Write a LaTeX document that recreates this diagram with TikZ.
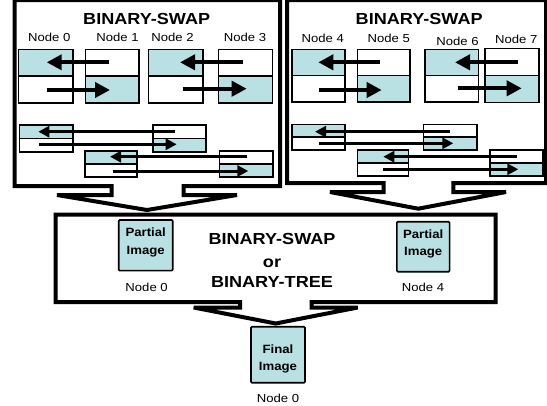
\documentclass[tikz,border=0pt]{standalone}
\usepackage{fontspec}
\setmainfont{Liberation Sans}
\usetikzlibrary{arrows.meta}
\definecolor{tealc}{RGB}{185,224,226}
\tikzset{
  frame/.style={line width=4pt, line join=miter},
  cellline/.style={line width=1.6pt},
  cell/.style={inner sep=0pt, outer sep=0pt},
  bigarr/.style={line width=4pt, -{Triangle[length=15pt,width=15pt]}},
  smallarr/.style={line width=3pt, -{Triangle[length=11pt,width=11pt]}},
  title/.style={font=\fontsize{16}{18}\selectfont\bfseries, anchor=base, inner sep=0pt, xscale=1.13},
  lab/.style={font=\fontsize{11.6}{14}\selectfont, anchor=base, inner sep=0pt, xscale=1.13},
  boxtxt/.style={font=\fontsize{12}{14}\selectfont\bfseries, anchor=base, inner sep=0pt, xscale=1.1},
  imgbox/.style={draw, line width=1.6pt, fill=tealc, inner sep=0pt, outer sep=0pt, rounded corners=1pt},
}
% #1 name, #2 x1, #3 y1, #4 x2, #5 y2, #6 t/b (teal half)
\newcommand\splitbox[6]{%
  \pgfmathsetmacro\bw{#4-#2}\pgfmathsetmacro\bh{#5-#3}%
  \node[cell, minimum width=\bw pt, minimum height=\bh pt] (#1) at ({(#2+#4)/2},{(#3+#5)/2}) {};
  \if t#6\fill[tealc] (#1.north west) rectangle (#1.east);\else\fill[tealc] (#1.west) rectangle (#1.south east);\fi
  \draw[cellline] (#1.west) -- (#1.east);
  \draw[cellline] (#1.north west) rectangle (#1.south east);
}
% #1 name, #2 style, #3 x start, #4 x end, #5 y
\newcommand\swaparrow[5]{%
  \coordinate (#1s) at (#3,#5);
  \coordinate (#1e) at (#4,#5);
  \draw[#2] (#1s) -- (#1e);
}
\begin{document}
\begin{tikzpicture}[x=1pt,y=-1pt]
\path[use as bounding box, fill=white] (0,0) rectangle (547,405);

% frames with arrow outlines
\draw[frame] (14.7,0) -- (280,0) -- (280,186) -- (183.5,186) -- (183.5,195) -- (237,195)
  -- (147,210) -- (57,195) -- (111.5,195) -- (111.5,186) -- (14.7,186) -- cycle;
\draw[frame] (287,0) -- (546,0) -- (546,183) -- (453.3,183) -- (453.3,192) -- (506,192)
  -- (418.3,208.7) -- (330,192) -- (383.5,192) -- (383.5,183) -- (287,183) -- cycle;
\draw[frame] (55.5,214.5) -- (495.5,214.5) -- (495.5,302) -- (311.5,302) -- (311.5,307.5) -- (357.7,307.5)
  -- (275.7,323.5) -- (193.7,307.5) -- (240,307.5) -- (240,302) -- (55.5,302) -- cycle;

% left group
\node[title] (t1) at (146.7,24) {BINARY-SWAP};
\node[lab] (n0) at (49.3,41.7) {Node 0};
\node[lab] (n1) at (117.5,41.7) {Node 1};
\node[lab] (n2) at (172.5,41.7) {Node 2};
\node[lab] (n3) at (245,41.7) {Node 3};
\splitbox{b0}{18.3}{49.3}{72.7}{102.7}{t}
\splitbox{b1}{85.5}{49.3}{139}{102.7}{b}
\splitbox{b2}{148.3}{49.3}{202.7}{102.7}{t}
\splitbox{b3}{218.5}{49.3}{272.5}{102.7}{b}
\splitbox{c0}{19.3}{125}{72.7}{151.7}{t}
\splitbox{c2}{152.7}{125}{206}{151.7}{b}
\splitbox{c1}{85}{150.7}{136.7}{176.7}{t}
\splitbox{c3}{219.3}{150.7}{272.7}{176.7}{b}
\swaparrow{a1}{bigarr}{109.3}{46.7}{62.3}
\swaparrow{a2}{bigarr}{46.7}{110}{90}
\swaparrow{a3}{bigarr}{243.3}{180}{62.3}
\swaparrow{a4}{bigarr}{182.7}{246.7}{88.7}
\swaparrow{a5}{smallarr}{175}{38.3}{131.7}
\swaparrow{a6}{smallarr}{39.3}{176.7}{144.3}
\swaparrow{a7}{smallarr}{246.7}{110}{156.7}
\swaparrow{a8}{smallarr}{112.7}{248.3}{171}

% right group
\node[title] (t2) at (419.2,24) {BINARY-SWAP};
\node[lab] (n4) at (322.8,42.7) {Node 4};
\node[lab] (n5) at (388.7,42.3) {Node 5};
\node[lab] (n6) at (457.5,45) {Node 6};
\node[lab] (n7) at (516.3,43.3) {Node 7};
\splitbox{b4}{291.7}{49.3}{345}{101.7}{t}
\splitbox{b5}{357.3}{49.3}{410}{101.7}{b}
\splitbox{b6}{425}{49.3}{478.3}{101.7}{t}
\splitbox{b7}{485}{48.3}{538.7}{102.3}{b}
\splitbox{c4}{291.7}{124.3}{345}{150}{t}
\splitbox{c6}{423.3}{124.3}{476.7}{150}{b}
\splitbox{c5}{357.3}{150}{408.3}{176}{t}
\splitbox{c7}{490}{150}{542.7}{176}{b}
\swaparrow{r1}{bigarr}{380}{318.3}{62.3}
\swaparrow{r2}{bigarr}{319.3}{381.7}{90}
\swaparrow{r3}{bigarr}{518.3}{455}{62.3}
\swaparrow{r4}{bigarr}{458.3}{521.7}{88.3}
\swaparrow{r5}{smallarr}{450}{315}{131.7}
\swaparrow{r6}{smallarr}{319.3}{453.3}{143.3}
\swaparrow{r7}{smallarr}{516.7}{383.3}{156.7}
\swaparrow{r8}{smallarr}{383.3}{518.3}{169.3}

% middle stage
\node[imgbox, minimum width=54pt, minimum height=50.7pt] (p0) at (145.7,245.3) {};
\node[boxtxt] (p0a) at (145.7,236.7) {Partial};
\node[boxtxt] (p0b) at (145.7,254) {Image};
\node[lab] (p0n) at (146.6,291.7) {Node 0};
\node[imgbox, minimum width=52.7pt, minimum height=50pt] (p4) at (423.2,246.7) {};
\node[boxtxt] (p4a) at (423.2,238.3) {Partial};
\node[boxtxt] (p4b) at (423.2,255) {Image};
\node[lab] (p4n) at (423,291.7) {Node 4};
\node[title] (m1) at (272,244) {BINARY-SWAP};
\node[title] (m2) at (272,267.3) {or};
\node[title] (m3) at (272,287.3) {BINARY-TREE};

% final
\node[imgbox, minimum width=54pt, minimum height=56pt] (fi) at (278,354.7) {};
\node[boxtxt] (fia) at (278,353.3) {Final};
\node[boxtxt] (fib) at (278,370) {Image};
\node[lab] (fin) at (278,402.7) {Node 0};
\end{tikzpicture}
\end{document}
